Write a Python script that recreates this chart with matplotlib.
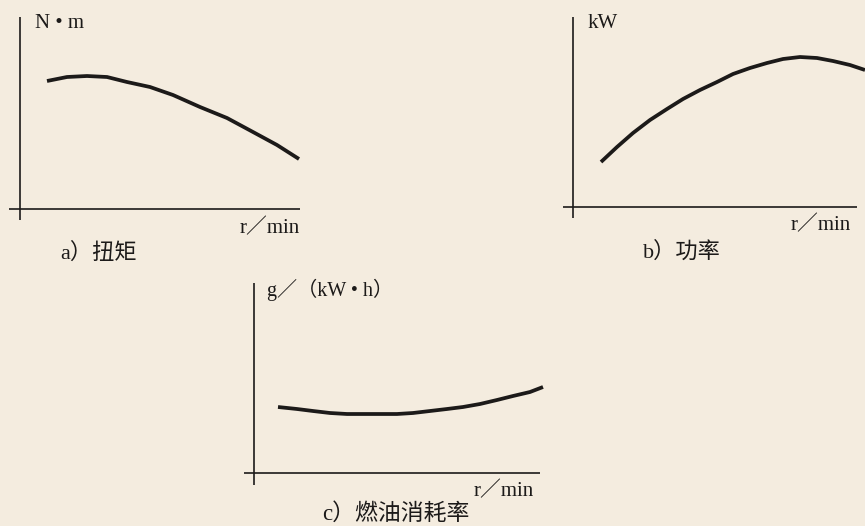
import matplotlib
matplotlib.use("Agg")
import matplotlib.pyplot as plt

plt.rcParams["font.family"] = ["Liberation Serif", "Noto Sans CJK SC", "DejaVu Sans"]

# curve values (arbitrary units, origin at axes crossing)
speed_a = [27, 47, 67, 87, 107, 130, 153, 180, 207, 233, 257, 279]
torque = [128, 132, 133, 132, 127, 122, 114, 102, 91, 77, 64, 50]

speed_b = [28, 44, 60, 77, 94, 110, 127, 144, 160, 177, 194, 210, 227, 244, 260, 277, 292]
power = [45, 60, 74, 87, 98, 108, 117, 125, 133, 139, 144, 148, 150, 149, 146, 142, 137]

speed_c = [24, 43, 59, 76, 93, 109, 126, 143, 159, 176, 193, 209, 226, 243, 259, 276, 289]
fuel = [66, 64, 62, 60, 59, 59, 59, 59, 60, 62, 64, 66, 69, 73, 77, 81, 86]

y_labels = ["N • m", "kW", "g／（kW • h）"]
x_label = "r／min"
captions = ["a）扭矩", "b）功率", "c）燃油消耗率"]

W, H = 865, 526
bg = "#f4ecdf"
ink = "#1c1a19"

fig = plt.figure(figsize=(W / 100, H / 100), dpi=100, facecolor=bg)


def make_axes(left, right, top, bottom, ox, oy):
    # pixel box -> figure fraction, limits keep the origin at (ox, oy)
    ax = fig.add_axes([left / W, 1 - bottom / H, (right - left) / W, (bottom - top) / H])
    ax.set_xlim(left - ox, right - ox)
    ax.set_ylim(-(bottom - oy), oy - top)
    ax.axis("off")
    ax.axhline(0, color=ink, lw=1.2)
    ax.axvline(0, color=ink, lw=1.2)
    return ax


curve_style = dict(color=ink, lw=2.7, solid_capstyle="butt", solid_joinstyle="round", clip_on=False)

ax_a = make_axes(9, 300, 17, 220, 20, 209)
ax_a.plot(speed_a, torque, **curve_style)

ax_b = make_axes(563, 857, 17, 218, 573, 207)
ax_b.plot(speed_b, power, **curve_style)

ax_c = make_axes(244, 540, 283, 485, 254, 473)
ax_c.plot(speed_c, fuel, **curve_style)


def ftext(px, py, s, size, ha="left"):
    fig.text(px / W, 1 - py / H, s, fontsize=size, color=ink, ha=ha, va="center")


ftext(35, 24, y_labels[0], 15)
ftext(588, 24, y_labels[1], 15)
ftext(267, 290, y_labels[2], 14.5)

ftext(300, 228, x_label, 15, ha="right")
ftext(851, 225, x_label, 15, ha="right")
ftext(534, 491, x_label, 15, ha="right")

ftext(60, 253, captions[0], 16)
ftext(643, 252, captions[1], 16)
ftext(322, 514, captions[2], 16.5)

fig.savefig("out.png", dpi=100, facecolor=bg)
